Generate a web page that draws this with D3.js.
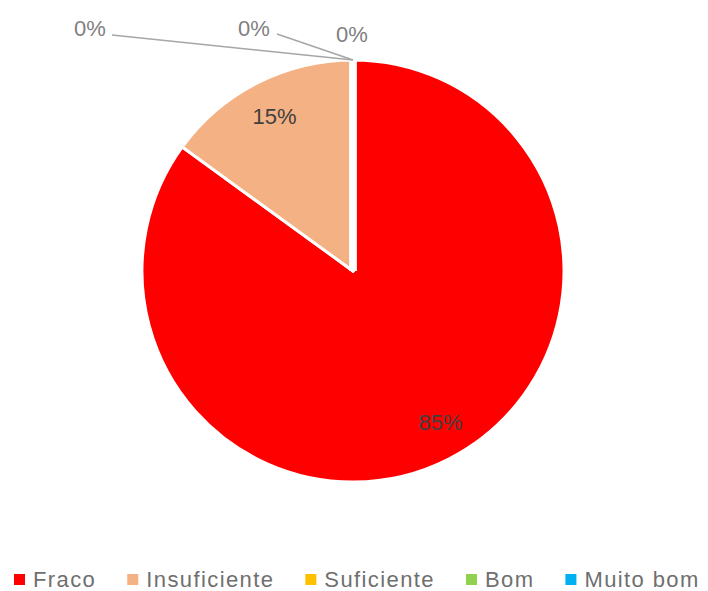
<!DOCTYPE html>
<html>
<head>
<meta charset="utf-8">
<script src="https://cdn.jsdelivr.net/npm/d3@7/dist/d3.min.js"></script>
<style>
  html, body { margin: 0; padding: 0; background: #ffffff; }
  svg { display: block; }
  text { font-family: "Liberation Sans", Arial, sans-serif; }
</style>
</head>
<body>
<svg id="chart" width="708" height="591"></svg>
<script>
// Rating categories and their share of responses (%)
const categories = ["Fraco", "Insuficiente", "Suficiente", "Bom", "Muito bom"];
const values = [85, 15, 0, 0, 0];
const labels = ["85%", "15%", "0%", "0%", "0%"];
const colors = ["#FF0000", "#F4B183", "#FFC000", "#92D050", "#00B0F0"];

const width = 708, height = 591;
const cx = 353, cy = 271, radius = 211;

const svg = d3.select("#chart");
const g = svg.append("g").attr("transform", `translate(${cx},${cy})`);

const pie = d3.pie().sort(null).value(d => d);
const arcs = pie(values);
const arc = d3.arc().innerRadius(0).outerRadius(radius);

g.selectAll("path.slice")
  .data(arcs)
  .enter().append("path")
  .attr("class", "slice")
  .attr("d", arc)
  .attr("fill", (d, i) => colors[i])
  .attr("stroke", "#ffffff")
  .attr("stroke-width", 3)
  .attr("stroke-linejoin", "round");

// Empty slices collapse onto the top edge; their borders widen the seam there
arcs.forEach((d, i) => {
  if (d.value === 0) {
    g.append("line")
      .attr("x1", 0).attr("y1", 0)
      .attr("x2", 0).attr("y2", -radius - 1)
      .attr("stroke", "#ffffff")
      .attr("stroke-width", 7);
  }
});

// Labels for non-empty slices sit inside, along the mid angle
const inner = d3.arc().innerRadius(radius * 0.82).outerRadius(radius * 0.82);
const nudge = [[9, -3], [0, 0]];
arcs.forEach((d, i) => {
  if (d.value === 0) return;
  const [x, y] = inner.centroid(d);
  g.append("text")
    .attr("x", x + nudge[i][0])
    .attr("y", y + nudge[i][1])
    .attr("text-anchor", "middle")
    .attr("dominant-baseline", "central")
    .attr("font-size", 22)
    .attr("fill", "#404040")
    .text(labels[i]);
});

// Labels for empty slices are pulled out above the pie with leader lines
const outPos = [null, null, [-263, -243], [-99, -243], [-1, -237]];
const lineStart = [null, null, [-241, -236], [-76, -237], null];
arcs.forEach((d, i) => {
  if (d.value !== 0) return;
  const edge = d3.arc().innerRadius(radius).outerRadius(radius).centroid(d);
  if (lineStart[i]) {
    g.append("line")
      .attr("x1", lineStart[i][0]).attr("y1", lineStart[i][1])
      .attr("x2", edge[0]).attr("y2", edge[1])
      .attr("stroke", "#a6a6a6")
      .attr("stroke-width", 1.5);
  }
  g.append("text")
    .attr("x", outPos[i][0])
    .attr("y", outPos[i][1])
    .attr("text-anchor", "middle")
    .attr("dominant-baseline", "central")
    .attr("font-size", 22)
    .attr("fill", "#7f7f7f")
    .text(labels[i]);
});

// Legend along the bottom
const legend = svg.append("g").attr("transform", "translate(0,579)");
let x = 14;
categories.forEach((c, i) => {
  legend.append("rect")
    .attr("x", x).attr("y", -5)
    .attr("width", 11).attr("height", 11)
    .attr("fill", colors[i]);
  const t = legend.append("text")
    .attr("x", x + 19)
    .attr("y", 0)
    .attr("dominant-baseline", "central")
    .attr("font-size", 22)
    .attr("letter-spacing", 1.4)
    .attr("fill", "#6f6f6f")
    .text(c);
  x += 19 + t.node().getComputedTextLength() + 31;
});
</script>
</body>
</html>
